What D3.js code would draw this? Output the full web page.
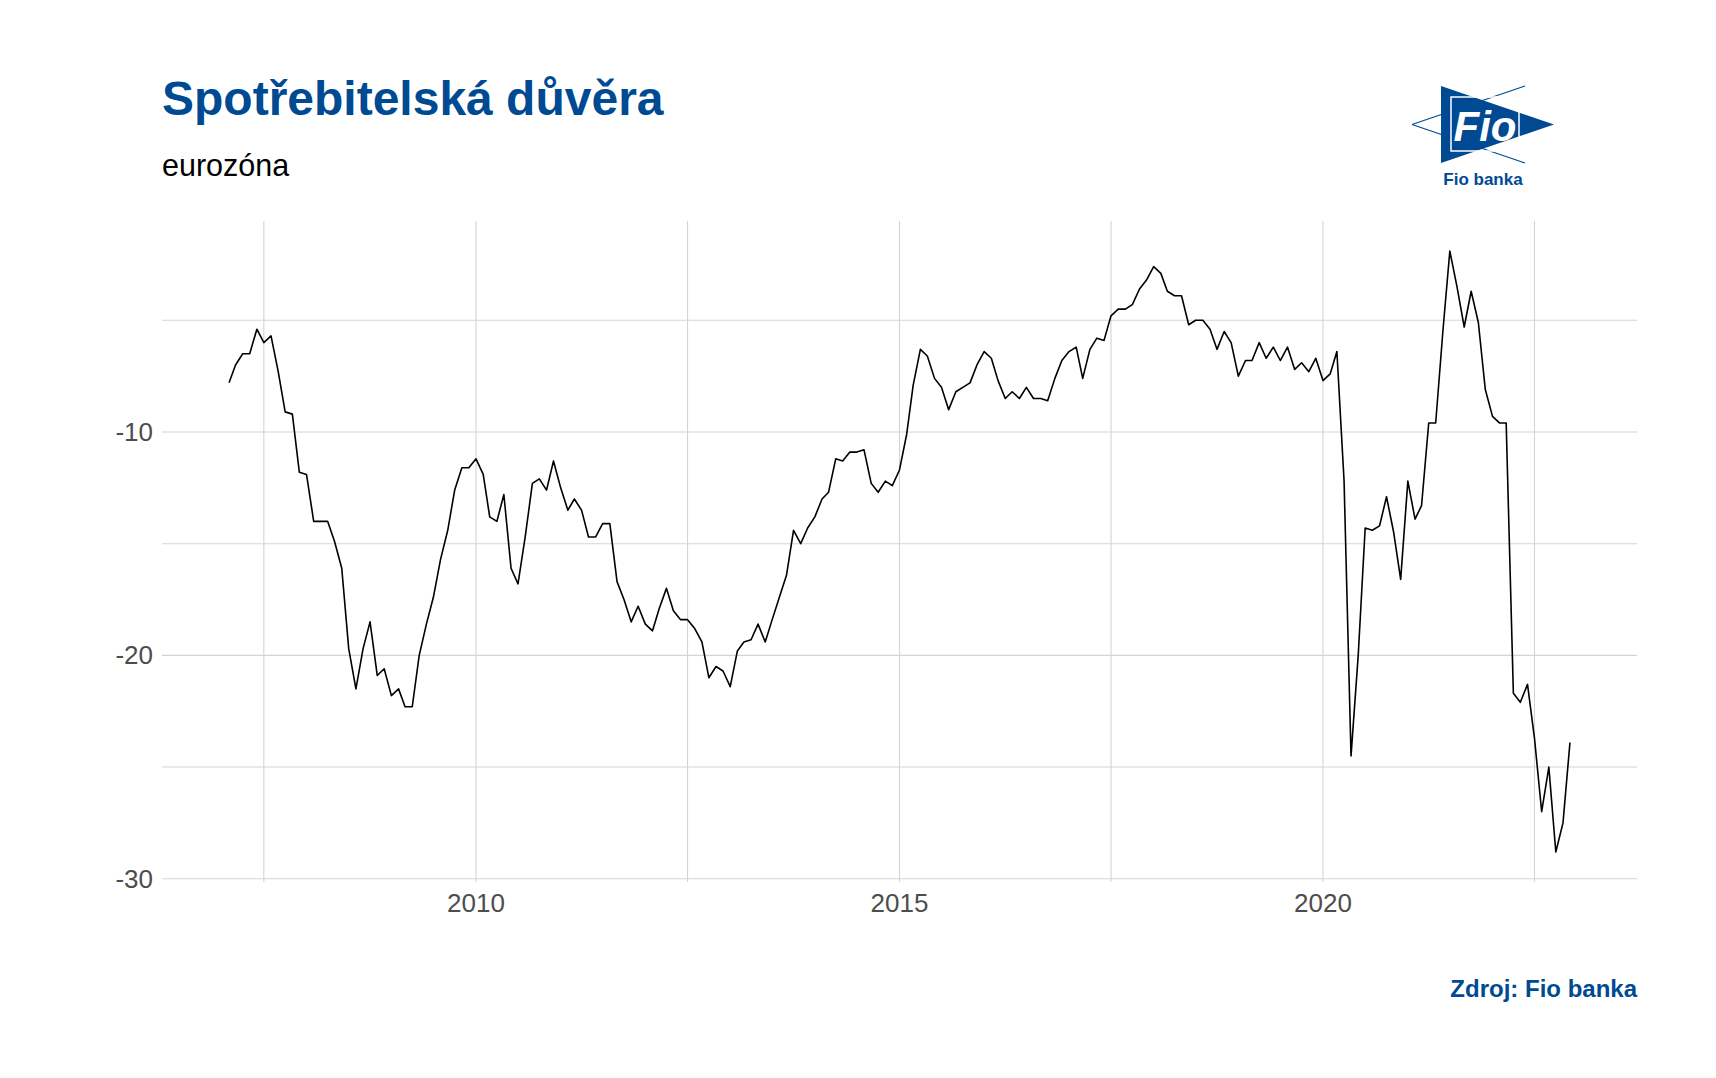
<!DOCTYPE html>
<html>
<head>
<meta charset="utf-8">
<script src="https://cdn.jsdelivr.net/npm/d3@7"></script>
<style>
  body { margin: 0; background: #fff; }
  text { font-family: "Liberation Sans", Arial, sans-serif; }
</style>
</head>
<body>
<script>
const width = 1716;
const height = 1078;

// monthly consumer confidence, Jan 2007 - Nov 2022
const y2007 = [-7.8, -7.0, -6.5, -6.5, -5.4, -6.0, -5.7, -7.3, -9.1, -9.2, -11.8, -11.9];
const y2008 = [-14.0, -14.0, -14.0, -14.9, -16.1, -19.7, -21.5, -19.7, -18.5, -20.9, -20.6, -21.8];
const y2009 = [-21.5, -22.3, -22.3, -20.0, -18.6, -17.4, -15.7, -14.4, -12.6, -11.6, -11.6, -11.2];
const y2010 = [-11.9, -13.8, -14.0, -12.8, -16.1, -16.8, -14.7, -12.3, -12.1, -12.6, -11.3, -12.5];
const y2011 = [-13.5, -13.0, -13.5, -14.7, -14.7, -14.1, -14.1, -16.7, -17.5, -18.5, -17.8, -18.6];
const y2012 = [-18.9, -17.9, -17.0, -18.0, -18.4, -18.4, -18.8, -19.4, -21.0, -20.5, -20.7, -21.4];
const y2013 = [-19.8, -19.4, -19.3, -18.6, -19.4, -18.4, -17.4, -16.4, -14.4, -15.0, -14.3, -13.8];
const y2014 = [-13.0, -12.7, -11.2, -11.3, -10.9, -10.9, -10.8, -12.3, -12.7, -12.2, -12.4, -11.7];
const y2015 = [-10.1, -7.9, -6.3, -6.6, -7.6, -8.0, -9.0, -8.2, -8.0, -7.8, -7.0, -6.4];
const y2016 = [-6.7, -7.7, -8.5, -8.2, -8.5, -8.0, -8.5, -8.5, -8.6, -7.6, -6.8, -6.4];
const y2017 = [-6.2, -7.6, -6.3, -5.8, -5.9, -4.8, -4.5, -4.5, -4.3, -3.6, -3.2, -2.6];
const y2018 = [-2.9, -3.7, -3.9, -3.9, -5.2, -5.0, -5.0, -5.4, -6.3, -5.5, -6.0, -7.5];
const y2019 = [-6.8, -6.8, -6.0, -6.7, -6.2, -6.8, -6.2, -7.2, -6.9, -7.3, -6.7, -7.7];
const y2020 = [-7.4, -6.4, -12.2, -24.5, -20.0, -14.3, -14.4, -14.2, -12.9, -14.5, -16.6, -12.2];
const y2021 = [-13.9, -13.3, -9.6, -9.6, -5.5, -1.9, -3.5, -5.3, -3.7, -5.1, -8.1, -9.3];
const y2022 = [-9.6, -9.6, -21.7, -22.1, -21.3, -23.7, -27.0, -25.0, -28.8, -27.5, -23.9];

const xTicks = [2010, 2015, 2020];
const xMinor = [2007.5, 2012.5, 2017.5, 2022.5];
const yTicks = [-10, -20, -30];
const yMinor = [-5, -15, -25];

const values = [].concat(y2007, y2008, y2009, y2010, y2011, y2012, y2013, y2014,
    y2015, y2016, y2017, y2018, y2019, y2020, y2021, y2022);
// each month is plotted at its end (= first day of next month)
const data = values.map((v, i) => ({ date: new Date(2007, i + 1, 1), value: v }));

const pLeft = 162, pRight = 1637, pTop = 221, pBottom = 882;
const blue = '#004a93';

const svg = d3.select('body').append('svg')
    .attr('width', width)
    .attr('height', height);

const yearDate = yr => new Date(Math.floor(yr), Math.round((yr % 1) * 12), 1);

const ext = d3.extent(data, d => +d.date);
const padX = (ext[1] - ext[0]) * 0.05;
const x = d3.scaleTime()
    .domain([new Date(ext[0] - padX), new Date(ext[1] + padX)])
    .range([pLeft, pRight]);

const vExt = d3.extent(values);
const padY = (vExt[1] - vExt[0]) * 0.05;
const y = d3.scaleLinear()
    .domain([vExt[0] - padY, vExt[1] + padY])
    .range([pBottom, pTop]);

const grid = svg.append('g').attr('stroke', '#d4d4d4').attr('stroke-width', 1.1);
grid.selectAll('.gy').data(yTicks.concat(yMinor)).enter().append('line')
    .attr('x1', pLeft).attr('x2', pRight)
    .attr('y1', d => y(d)).attr('y2', d => y(d));
grid.selectAll('.gx').data(xTicks.concat(xMinor)).enter().append('line')
    .attr('y1', pTop).attr('y2', pBottom)
    .attr('x1', d => x(yearDate(d))).attr('x2', d => x(yearDate(d)));

svg.append('g').selectAll('text').data(yTicks).enter().append('text')
    .attr('x', pLeft - 9).attr('y', d => y(d)).attr('dy', '0.35em')
    .attr('text-anchor', 'end').attr('font-size', 26).attr('fill', '#4d4d4d')
    .text(d => d);

svg.append('g').selectAll('text').data(xTicks).enter().append('text')
    .attr('x', d => x(yearDate(d))).attr('y', 912)
    .attr('text-anchor', 'middle').attr('font-size', 26).attr('fill', '#4d4d4d')
    .text(d => d);

const line = d3.line()
    .x(d => x(d.date))
    .y(d => y(d.value));

svg.append('path')
    .datum(data)
    .attr('d', line)
    .attr('fill', 'none')
    .attr('stroke', '#000')
    .attr('stroke-width', 1.6)
    .attr('stroke-linejoin', 'round');

svg.append('text').attr('x', 162).attr('y', 115)
    .attr('font-size', 48).attr('font-weight', 'bold').attr('fill', blue)
    .text('Spotřebitelská důvěra');
svg.append('text').attr('x', 162).attr('y', 176)
    .attr('font-size', 30.5).attr('fill', '#000')
    .text('eurozóna');
svg.append('text').attr('x', pRight).attr('y', 997)
    .attr('text-anchor', 'end').attr('font-size', 24).attr('font-weight', 'bold').attr('fill', blue)
    .text('Zdroj: Fio banka');

// logo
const logo = svg.append('g').attr('transform', 'translate(-7,0)');
logo.append('path')
    .attr('d', 'M1448,86 L1448,163 L1561,124.5 Z')
    .attr('fill', blue);
logo.append('path')
    .attr('d', 'M1419,124.5 L1532,86 M1419,124.5 L1532,163')
    .attr('stroke', blue).attr('stroke-width', 1.3).attr('fill', 'none');
logo.append('rect')
    .attr('x', 1458).attr('y', 97).attr('width', 68).attr('height', 54)
    .attr('fill', 'none').attr('stroke', '#fff').attr('stroke-width', 1.5);
logo.append('text').attr('x', 1492).attr('y', 141)
    .attr('text-anchor', 'middle').attr('font-size', 42).attr('font-style', 'italic')
    .attr('font-weight', 'bold')
    .attr('font-family', '"Liberation Serif", serif').attr('fill', '#fff')
    .text('Fio');
logo.append('text').attr('x', 1490).attr('y', 185)
    .attr('text-anchor', 'middle').attr('font-size', 17).attr('font-weight', 'bold').attr('fill', blue)
    .text('Fio banka');
</script>
</body>
</html>
